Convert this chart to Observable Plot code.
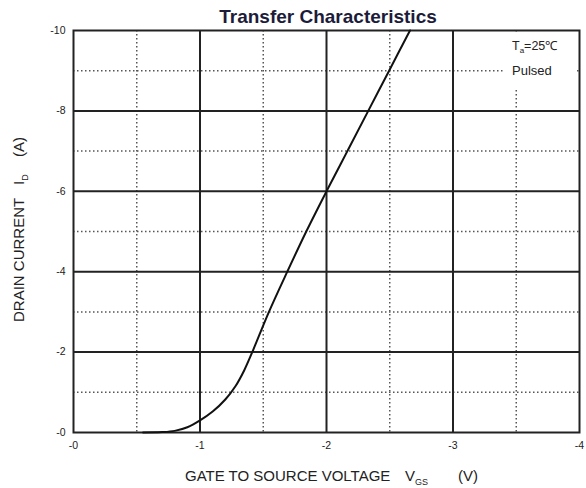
<!DOCTYPE html>
<html><head><meta charset="utf-8">
<script src="https://cdn.jsdelivr.net/npm/d3@7"></script>
<script src="https://cdn.jsdelivr.net/npm/@observablehq/plot@0.6"></script>
<style>
body{margin:0;background:#fff;}
svg{font-family:"Liberation Sans",Arial,sans-serif;}
</style>
</head><body><div id="chart"></div>
<script>
const title = "Transfer Characteristics";
const vgs = [-0.55,-0.70,-0.80,-0.90,-1.00,-1.10,-1.20,-1.28,-1.35,-1.42,-1.545,-1.69,-1.84,-2.00,-2.165,-2.33,-2.495,-2.66];
const idrain = [0,-0.01,-0.04,-0.13,-0.30,-0.52,-0.82,-1.15,-1.55,-2.05,-3,-4,-5,-6,-7,-8,-9,-10];
const xTicks = [0,-1,-2,-3,-4];
const yTicks = [0,-2,-4,-6,-8,-10];
const xMinor = [-0.5,-1.5,-2.5,-3.5];
const yMinor = [-1,-3,-5,-7,-9];
const xMajor = [-1,-2,-3];
const yMajor = [-2,-4,-6,-8];

const curve = vgs.map((v,i)=>({vgs:v, id:idrain[i]}));
const fmt = d => "-" + Math.abs(d);

const plot = Plot.plot({
  width:586, height:488,
  marginLeft:73, marginRight:7, marginTop:30, marginBottom:56,
  x:{domain:[0,-4]},
  y:{domain:[0,-10]},
  style:{fontFamily:"Liberation Sans, Arial, sans-serif", background:"#fff"},
  marks:[
    Plot.ruleX(xMinor,{stroke:"#555", strokeWidth:1.5, strokeDasharray:"1.5,2.5"}),
    Plot.ruleY(yMinor,{stroke:"#555", strokeWidth:1.5, strokeDasharray:"1.5,2.5"}),
    Plot.ruleX(xMajor,{stroke:"#222", strokeWidth:2}),
    Plot.ruleY(yMajor,{stroke:"#222", strokeWidth:2}),
    Plot.frame({stroke:"#222", strokeWidth:2}),
    Plot.line(curve,{x:"vgs", y:"id", curve:"catmull-rom", stroke:"#111", strokeWidth:2}),
    Plot.axisX({ticks:xTicks, tickSize:0, tickPadding:9, tickFormat:fmt, fontSize:10.5, label:null, color:"#222"}),
    Plot.axisY({ticks:yTicks, tickSize:0, tickPadding:8, tickFormat:fmt, fontSize:10.5, label:null, color:"#222"})
  ]
});
document.getElementById("chart").appendChild(plot);

const svg = d3.select(plot);
// title
svg.append("text").attr("x",328).attr("y",23).attr("text-anchor","middle")
  .attr("font-size",19).attr("font-weight","bold").attr("fill","#1c1c3a").text(title);
// annotation box
svg.append("rect").attr("x",503).attr("y",32).attr("width",72).attr("height",56).attr("fill","#fff");
const t1 = svg.append("text").attr("x",512).attr("y",50).attr("text-anchor","start").attr("font-size",12.5).attr("fill","#222");
t1.append("tspan").text("T");
t1.append("tspan").attr("font-size",8).attr("dy",3).text("a");
t1.append("tspan").attr("dy",-3).text("=25℃");
svg.append("text").attr("x",512).attr("y",75).attr("text-anchor","start").attr("font-size",13).attr("fill","#222").text("Pulsed");

// x label
const xl = svg.append("text").attr("x",185).attr("y",481).attr("text-anchor","start").attr("font-size",15).attr("fill","#222");
xl.append("tspan").text("GATE TO SOURCE VOLTAGE");
xl.append("tspan").attr("x",405).text("V");
xl.append("tspan").attr("font-size",9).attr("dy",4).text("GS");
xl.append("tspan").attr("x",458).attr("dy",-4).text("(V)");

// y label
const yl = svg.append("text").attr("transform","translate(24,322) rotate(-90)").attr("text-anchor","start").attr("font-size",15).attr("fill","#222");
yl.append("tspan").text("DRAIN CURRENT");
yl.append("tspan").attr("x",137).text("I");
yl.append("tspan").attr("font-size",9).attr("dy",4).text("D");
yl.append("tspan").attr("x",165).attr("dy",-4).text("(A)");
</script>
</body></html>
